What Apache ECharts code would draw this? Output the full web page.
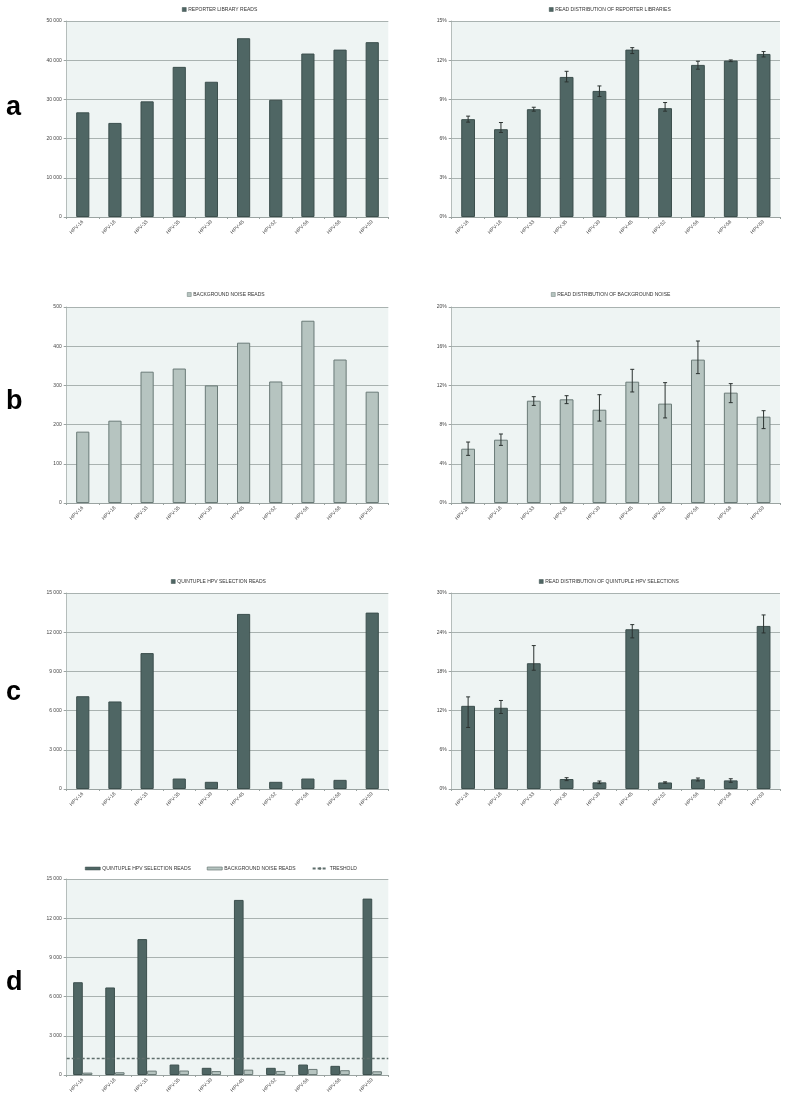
<!DOCTYPE html>
<html>
<head>
<meta charset="utf-8">
<script src="https://cdn.jsdelivr.net/npm/echarts@6/dist/echarts.min.js"></script>
<style>
html,body{margin:0;padding:0;background:#fff;}
#chart{width:789px;height:1102px;}
</style>
</head>
<body>
<div id="chart"></div>
<script>
const categories = ['HPV-16','HPV-18','HPV-33','HPV-35','HPV-39','HPV-45','HPV-52','HPV-56','HPV-58','HPV-59'];

const reporterReads = [26700,24000,29500,38300,34500,45600,29900,41700,42700,44600];
const reporterPct = [7.49,6.72,8.25,10.72,9.65,12.81,8.33,11.64,11.97,12.48];
const reporterPctErrUp = [0.23,0.51,0.15,0.43,0.38,0.15,0.43,0.28,0.05,0.18];
const reporterPctErrDown = [0.23,0.25,0.15,0.38,0.43,0.30,0.23,0.33,0.08,0.23];

const noiseReads = [182,210,335,343,300,409,310,465,366,284];
const noisePct = [5.54,6.46,10.44,10.58,9.52,12.38,10.14,14.63,11.26,8.81];
const noisePctErrUp = [0.68,0.58,0.41,0.37,1.53,1.26,2.14,1.90,0.92,0.61];
const noisePctErrDown = [0.68,0.58,0.48,0.44,1.16,1.05,1.46,1.43,1.02,1.22];

const quintupleReads = [7100,6700,10400,800,550,13400,550,800,700,13500];
const quintuplePct = [12.73,12.43,19.25,1.53,1.02,24.45,1.00,1.48,1.32,24.96];
const quintuplePctErrUp = [1.37,1.12,2.70,0.20,0.20,0.71,0.10,0.20,0.25,1.68];
const quintuplePctErrDown = [3.31,0.87,1.07,0.25,0.20,1.32,0.10,0.25,0.30,1.07];

const threshold = 1275;

const titles = {
  a1: 'REPORTER LIBRARY READS',
  a2: 'READ DISTRIBUTION OF REPORTER LIBRARIES',
  b1: 'BACKGROUND NOISE READS',
  b2: 'READ DISTRIBUTION OF BACKGROUND NOISE',
  c1: 'QUINTUPLE HPV SELECTION READS',
  c2: 'READ DISTRIBUTION OF QUINTUPLE HPV SELECTIONS',
  dThreshold: 'TRESHOLD'
};

const DARK = '#4f6664';
const DARK_BORDER = '#3c4f4d';
const LIGHT = '#b6c4c0';
const LIGHT_BORDER = '#6a7a77';
const BG = '#eef4f3';
const GRID = '#a9b2b0';
const FONT = 'Liberation Sans';

const chart = echarts.init(document.getElementById('chart'), null, {renderer:'canvas'});

const LEFT_X = 66.7, LEFT_W = 321.6, RIGHT_X = 451.7, RIGHT_W = 328.3;
const rowsTop = [21, 307, 593, 879];
const PH = 196;

const gridDefs = [
  {left: LEFT_X, width: LEFT_W, top: rowsTop[0]},
  {left: RIGHT_X, width: RIGHT_W, top: rowsTop[0]},
  {left: LEFT_X, width: LEFT_W, top: rowsTop[1]},
  {left: RIGHT_X, width: RIGHT_W, top: rowsTop[1]},
  {left: LEFT_X, width: LEFT_W, top: rowsTop[2]},
  {left: RIGHT_X, width: RIGHT_W, top: rowsTop[2]},
  {left: LEFT_X, width: LEFT_W, top: rowsTop[3]}
];

const grids = gridDefs.map(g => ({
  left: g.left, width: g.width, top: g.top, height: PH,
  show: true, backgroundColor: BG, borderWidth: 0,
  containLabel: false, outerBoundsMode: 'none'
}));

function spaced(v){
  return String(v).replace(/\B(?=(\d{3})+(?!\d))/g, ' ');
}

const xAxes = grids.map((g, i) => ({
  type: 'category', gridIndex: i, data: categories,
  boundaryGap: true,
  axisLine: {show: true, lineStyle: {color: '#9aa3a1', width: 1}},
  axisTick: {show: true, length: 2, lineStyle: {color: '#9aa3a1'}},
  axisLabel: {interval: 0, rotate: 45, fontSize: 5, color: '#444', fontFamily: FONT, margin: 4}
}));

const yDefs = [
  {max: 50000, interval: 10000, pct: false},
  {max: 15, interval: 3, pct: true},
  {max: 500, interval: 100, pct: false},
  {max: 20, interval: 4, pct: true},
  {max: 15000, interval: 3000, pct: false},
  {max: 30, interval: 6, pct: true},
  {max: 15000, interval: 3000, pct: false}
];
const yAxes = yDefs.map((d, i) => ({
  type: 'value', gridIndex: i, min: 0, max: d.max, interval: d.interval,
  axisLine: {show: true, lineStyle: {color: '#b5bdbb', width: 1}},
  axisTick: {show: true, length: 3, lineStyle: {color: '#9aa3a1'}},
  splitLine: {show: true, lineStyle: {color: GRID, width: 1}},
  axisLabel: {fontSize: 5, color: '#444', fontFamily: FONT, margin: 5,
    formatter: d.pct ? (v => v + '%') : (v => spaced(v))}
}));

function barSeries(name, data, idx, light, width){
  return {
    name: name, type: 'bar', xAxisIndex: idx, yAxisIndex: idx, data: data,
    barWidth: width,
    itemStyle: {color: light ? LIGHT : DARK, borderColor: light ? LIGHT_BORDER : DARK_BORDER, borderWidth: 1},
    emphasis: {disabled: true}, silent: true, z: 2
  };
}

function errSeries(idx, vals, up, down){
  return {
    name: 'err' + idx, type: 'custom', xAxisIndex: idx, yAxisIndex: idx,
    data: vals.map((v, i) => [i, v - down[i], v + up[i]]),
    encode: {x: 0, y: [1, 2]},
    silent: true, z: 5,
    renderItem: function(params, api){
      const lo = api.coord([api.value(0), api.value(1)]);
      const hi = api.coord([api.value(0), api.value(2)]);
      const cw = 2;
      const st = {stroke: '#2b3230', lineWidth: 1};
      return {type: 'group', children: [
        {type: 'line', shape: {x1: lo[0], y1: lo[1], x2: hi[0], y2: hi[1]}, style: st},
        {type: 'line', shape: {x1: lo[0]-cw, y1: lo[1], x2: lo[0]+cw, y2: lo[1]}, style: st},
        {type: 'line', shape: {x1: hi[0]-cw, y1: hi[1], x2: hi[0]+cw, y2: hi[1]}, style: st}
      ]};
    }
  };
}

const series = [
  barSeries(titles.a1, reporterReads, 0, false, '41%'),
  barSeries(titles.a2, reporterPct, 1, false, '42%'),
  errSeries(1, reporterPct, reporterPctErrUp, reporterPctErrDown),
  barSeries(titles.b1, noiseReads, 2, true, '41%'),
  barSeries(titles.b2, noisePct, 3, true, '42%'),
  errSeries(3, noisePct, noisePctErrUp, noisePctErrDown),
  barSeries(titles.c1, quintupleReads, 4, false, '41%'),
  barSeries(titles.c2, quintuplePct, 5, false, '42%'),
  errSeries(5, quintuplePct, quintuplePctErrUp, quintuplePctErrDown),
  Object.assign(barSeries(titles.c1, quintupleReads, 6, false, null), {barGap: '0%', barCategoryGap: '40%', barWidth: undefined}),
  Object.assign(barSeries(titles.b1, noiseReads, 6, true, null), {barGap: '0%', barCategoryGap: '40%', barWidth: undefined}),
  {
    name: titles.dThreshold, type: 'line', xAxisIndex: 6, yAxisIndex: 6,
    data: categories.map(() => null), symbol: 'none', silent: true,
    lineStyle: {type: [3, 2], color: '#5f6e6c', width: 1.2},
    itemStyle: {color: '#5f6e6c'},
    markLine: {
      silent: true, symbol: ['none', 'none'], label: {show: false},
      lineStyle: {type: [3, 2], color: '#5f6e6c', width: 1.3},
      data: [{yAxis: threshold}]
    }
  }
];

function titleLegend(name, left, centerY, light){
  return {
    data: [{name: name, icon: 'rect', itemStyle: {color: light ? LIGHT : DARK, borderColor: light ? LIGHT_BORDER : DARK_BORDER, borderWidth: 0.5}}],
    left: left, top: centerY - 3, padding: 0, itemWidth: 4, itemHeight: 4, itemGap: 0,
    selectedMode: false,
    textStyle: {fontSize: 5, color: '#333', fontFamily: FONT, padding: [0, 0, 0, -3]}
  };
}

const legends = [
  titleLegend(titles.a1, 182, 10, false),
  titleLegend(titles.a2, 549, 10, false),
  titleLegend(titles.b1, 187, 295, true),
  titleLegend(titles.b2, 551, 295, true),
  titleLegend(titles.c1, 171, 582, false),
  titleLegend(titles.c2, 539, 582, false),
  {
    data: [
      {name: titles.c1, icon: 'rect', itemStyle: {color: DARK, borderColor: DARK_BORDER, borderWidth: 0.5}},
      {name: titles.b1, icon: 'rect', itemStyle: {color: LIGHT, borderColor: LIGHT_BORDER, borderWidth: 0.7}},
      {name: titles.dThreshold}
    ],
    left: 85, top: 866, padding: 0, itemWidth: 15, itemHeight: 3, itemGap: 16,
    selectedMode: false,
    textStyle: {fontSize: 5, color: '#333', fontFamily: FONT, padding: [0, 0, 0, -3]}
  }
];

const letters = [['a', 109], ['b', 403], ['c', 694], ['d', 984]];
const graphic = letters.map(l => ({
  type: 'text', left: 6, top: l[1] - 15, silent: true,
  style: {text: l[0], fontSize: 27, fontWeight: 'bold', fontFamily: FONT, fill: '#000'}
}));

chart.setOption({
  animation: false,
  backgroundColor: '#fff',
  grid: grids,
  xAxis: xAxes,
  yAxis: yAxes,
  legend: legends,
  series: series,
  graphic: graphic
});
</script>
</body>
</html>
